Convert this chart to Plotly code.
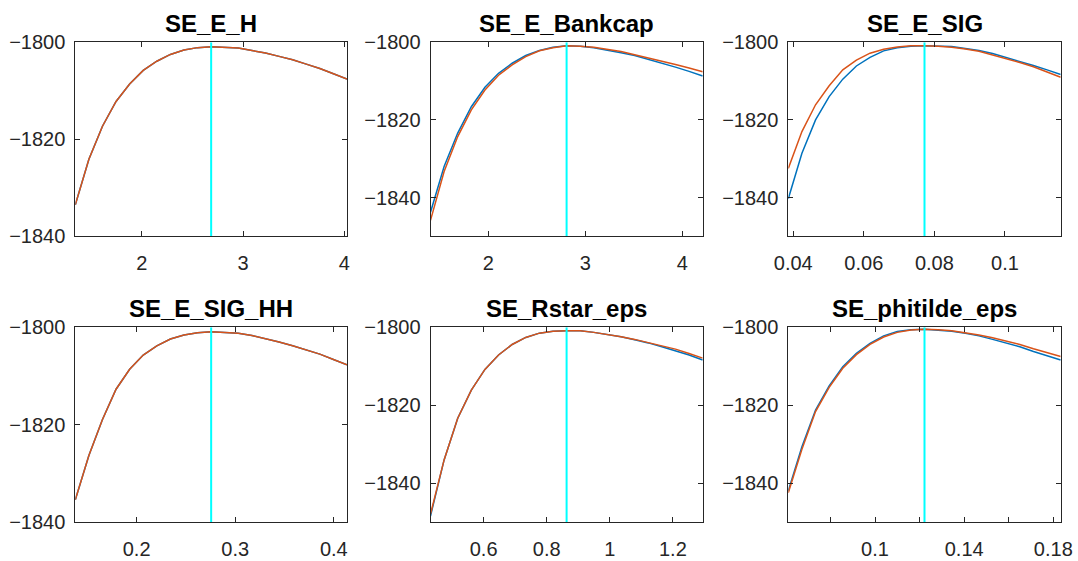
import numpy as np
import plotly.graph_objects as go

# Parameter names (panel titles) and their posterior modes
params = ["SE_E_H", "SE_E_Bankcap", "SE_E_SIG",
          "SE_E_SIG_HH", "SE_Rstar_eps", "SE_phitilde_eps"]
modes = [2.685, 2.806, 0.0772, 0.2756, 0.863, 0.1222]

# Log-posterior (blue) and log-likelihood kernel (orange) over a 21-point grid
# spanning mode*0.5 .. mode*1.5
log_post = [
    [-1833.5, -1824.1, -1817.3, -1812.2, -1808.6, -1805.8, -1803.9, -1802.5, -1801.6, -1801.1, -1800.9,
     -1801.0, -1801.2, -1801.7, -1802.2, -1802.9, -1803.6, -1804.5, -1805.4, -1806.5, -1807.6],
    [-1843.8, -1832.0, -1823.4, -1816.6, -1811.6, -1808.0, -1805.4, -1803.4, -1802.1, -1801.3, -1800.9,
     -1801.0, -1801.4, -1802.0, -1802.7, -1803.4, -1804.4, -1805.3, -1806.4, -1807.5, -1808.7],
    [-1840.3, -1828.6, -1820.0, -1814.0, -1809.5, -1806.1, -1803.9, -1802.2, -1801.4, -1801.0, -1800.9,
     -1801.0, -1801.1, -1801.6, -1802.1, -1802.9, -1803.9, -1804.9, -1806.0, -1807.1, -1808.3],
    [-1835.4, -1826.3, -1818.9, -1812.7, -1808.6, -1805.7, -1803.8, -1802.4, -1801.6, -1801.1, -1800.9,
     -1801.0, -1801.2, -1801.7, -1802.3, -1803.0, -1803.8, -1804.7, -1805.5, -1806.6, -1807.7],
    [-1848.4, -1834.0, -1823.3, -1816.1, -1810.8, -1807.1, -1804.4, -1802.6, -1801.5, -1801.0, -1800.9,
     -1800.9, -1801.3, -1801.8, -1802.4, -1803.2, -1804.0, -1805.0, -1806.0, -1807.1, -1808.4],
    [-1841.9, -1830.6, -1821.2, -1815.0, -1810.1, -1806.7, -1804.1, -1802.2, -1801.1, -1800.6, -1800.5,
     -1800.7, -1801.0, -1801.5, -1802.2, -1803.1, -1804.0, -1805.0, -1806.2, -1807.3, -1808.4],
]
log_lik = [
    [-1833.5, -1824.1, -1817.3, -1812.2, -1808.6, -1805.8, -1803.9, -1802.5, -1801.6, -1801.1, -1800.9,
     -1801.0, -1801.2, -1801.7, -1802.2, -1802.9, -1803.6, -1804.5, -1805.4, -1806.5, -1807.6],
    [-1845.9, -1833.3, -1824.3, -1817.4, -1812.3, -1808.5, -1805.8, -1803.7, -1802.2, -1801.4, -1800.9,
     -1801.0, -1801.3, -1801.8, -1802.4, -1803.2, -1804.0, -1804.8, -1805.7, -1806.6, -1807.6],
    [-1832.5, -1823.0, -1816.1, -1811.2, -1807.1, -1804.6, -1802.8, -1801.8, -1801.2, -1800.9, -1800.9,
     -1801.0, -1801.3, -1801.7, -1802.3, -1803.2, -1804.1, -1805.2, -1806.3, -1807.6, -1809.0],
    [-1835.4, -1826.3, -1818.9, -1812.7, -1808.6, -1805.7, -1803.8, -1802.4, -1801.6, -1801.1, -1800.9,
     -1801.0, -1801.2, -1801.7, -1802.3, -1803.0, -1803.8, -1804.7, -1805.5, -1806.6, -1807.7],
    [-1847.9, -1834.0, -1823.3, -1816.1, -1810.8, -1807.1, -1804.4, -1802.6, -1801.5, -1801.0, -1800.9,
     -1800.9, -1801.3, -1801.8, -1802.4, -1803.1, -1803.9, -1804.7, -1805.6, -1806.7, -1807.9],
    [-1842.4, -1831.3, -1821.6, -1815.4, -1810.5, -1807.0, -1804.4, -1802.5, -1801.3, -1800.7, -1800.5,
     -1800.6, -1800.9, -1801.4, -1802.0, -1802.7, -1803.5, -1804.4, -1805.5, -1806.5, -1807.5],
]

# Axis limits and ticks per panel
y_limits = [[-1840, -1800], [-1850, -1800], [-1850, -1800],
            [-1840, -1800], [-1850, -1800], [-1850, -1800]]
y_ticks = [-1840, -1820, -1800]
x_ticks = [
    [2, 3, 4],
    [2, 3, 4],
    [0.04, 0.06, 0.08, 0.1],
    [0.2, 0.3, 0.4],
    [0.6, 0.8, 1, 1.2],
    [0.08, 0.1, 0.12, 0.14, 0.16, 0.18],
]
x_tick_labels = [
    ["2", "3", "4"],
    ["2", "3", "4"],
    ["0.04", "0.06", "0.08", "0.1"],
    ["0.2", "0.3", "0.4"],
    ["0.6", "0.8", "1", "1.2"],
    ["", "0.1", "", "0.14", "", "0.18"],
]

W, H = 1078, 561
col_px = [(75.3, 347.0), (430.5, 702.7), (788.3, 1060.7)]
row_px = [(42.3, 236.3), (327.3, 522.3)]
title_mid_px = [24, 308]

BLUE = "#0072BD"
ORANGE = "#D95319"
CYAN = "#00FFFF"
AX = "#262626"
FONT = "Liberation Sans, Arial, Helvetica, sans-serif"

fig = go.Figure()
annotations = []
layout_axes = {}

for i, name in enumerate(params):
    r, c = divmod(i, 3)
    sfx = "" if i == 0 else str(i + 1)
    m = modes[i]
    grid = np.linspace(0.5 * m, 1.5 * m, len(log_post[i]))

    fig.add_trace(go.Scatter(x=grid, y=log_post[i], mode="lines",
                             line=dict(color=BLUE, width=1.5),
                             xaxis="x" + sfx, yaxis="y" + sfx))
    fig.add_trace(go.Scatter(x=grid, y=log_lik[i], mode="lines",
                             line=dict(color=ORANGE, width=1.5),
                             xaxis="x" + sfx, yaxis="y" + sfx))
    fig.add_trace(go.Scatter(x=[m, m], y=y_limits[i], mode="lines",
                             line=dict(color=CYAN, width=2),
                             xaxis="x" + sfx, yaxis="y" + sfx))

    x0, x1 = col_px[c]
    t0, t1 = row_px[r]
    xdom = [x0 / W, x1 / W]
    ydom = [1 - t1 / H, 1 - t0 / H]

    common = dict(showline=True, linecolor=AX, linewidth=1, mirror="ticks",
                  ticks="inside", ticklen=5, tickwidth=1, tickcolor=AX,
                  showgrid=False, zeroline=False, automargin=False,
                  tickfont=dict(family=FONT, size=20, color=AX))
    layout_axes["xaxis" + sfx] = dict(common, domain=xdom, anchor="y" + sfx,
                                      range=[grid[0], grid[-1]],
                                      tickmode="array", tickvals=x_ticks[i],
                                      ticktext=x_tick_labels[i],
                                      ticklabelstandoff=9)
    layout_axes["yaxis" + sfx] = dict(common, domain=ydom, anchor="x" + sfx,
                                      range=y_limits[i],
                                      tickmode="array", tickvals=y_ticks,
                                      ticklabelstandoff=5)

    annotations.append(dict(text="<b>%s</b>" % name, xref="paper", yref="paper",
                            x=(xdom[0] + xdom[1]) / 2, y=1 - title_mid_px[r] / H,
                            xanchor="center", yanchor="middle", showarrow=False,
                            font=dict(family=FONT, size=24, color="black")))

fig.update_layout(width=W, height=H, margin=dict(l=0, r=0, t=0, b=0),
                  paper_bgcolor="white", plot_bgcolor="white",
                  showlegend=False, annotations=annotations, **layout_axes)

fig.write_html("out.html")
